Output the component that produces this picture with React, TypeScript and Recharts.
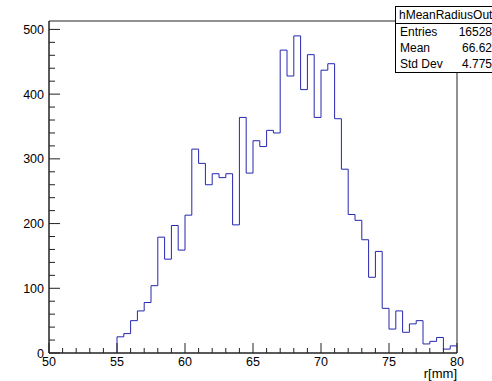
import React from "react";
import { ComposedChart, Line, ReferenceArea, XAxis, YAxis } from "recharts";

// histogram hMeanRadiusOut, 0.5 mm bins, first non-empty bin starts at 55
const FIRST_BIN = 55;
const BIN_WIDTH = 0.5;
const COUNTS = [
  25, 30, 50, 65, 78, 104, 179, 145, 197, 159,
  213, 315, 293, 260, 277, 271, 277, 198, 364, 278,
  328, 319, 344, 340, 468, 428, 490, 407, 461, 364,
  437, 447, 362, 284, 214, 205, 175, 117, 157, 69,
  37, 65, 32, 45, 50, 14, 18, 24, 6, 11
];

const X_TICKS = [50, 51, 52, 53, 54, 55, 56, 57, 58, 59, 60, 61, 62, 63, 64, 65, 66, 67, 68, 69, 70, 71, 72, 73, 74, 75, 76, 77, 78, 79, 80];
const Y_TICKS = [0, 20, 40, 60, 80, 100, 120, 140, 160, 180, 200, 220, 240, 260, 280, 300, 320, 340, 360, 380, 400, 420, 440, 460, 480, 500];
const Y_MAX = 513;

const STATS = [
  { label: "Entries", value: "16528" },
  { label: "Mean", value: "66.62" },
  { label: "Std Dev", value: "4.775" }
];

const FONT = "'Liberation Sans', Arial, Helvetica, sans-serif";
const LINE_COLOR = "#2626b0";

// step points: baseline at first edge, then one per bin, closing point at upper edge
const histData = [
  { x: FIRST_BIN, y: 0 },
  ...COUNTS.map((c, i) => ({ x: FIRST_BIN + i * BIN_WIDTH, y: c })),
  { x: FIRST_BIN + COUNTS.length * BIN_WIDTH, y: COUNTS[COUNTS.length - 1] }
];

const XTick = (props: any) => {
  const { x, y, payload } = props;
  const major = payload.value % 5 === 0;
  return (
    <g>
      <line x1={x} y1={y} x2={x} y2={y - (major ? 10 : 5)} stroke="#222" />
      {major ? (
        <text x={x} y={y + 13} textAnchor="middle" fontSize={12.5} fontFamily={FONT} fill="#000">
          {payload.value}
        </text>
      ) : null}
    </g>
  );
};

const YTick = (props: any) => {
  const { x, y, payload } = props;
  const major = payload.value % 100 === 0;
  return (
    <g>
      <line x1={x} y1={y} x2={x + (major ? 11 : 6)} y2={y} stroke="#222" />
      {major ? (
        <text x={x - 5} y={y + 4.5} textAnchor="end" fontSize={12.5} fontFamily={FONT} fill="#000">
          {payload.value}
        </text>
      ) : null}
    </g>
  );
};

export default function App() {
  return (
    <div style={{ position: "absolute", left: 0, top: 0, width: 492, height: 381, overflow: "hidden", background: "#fff" }}>
      <ComposedChart width={492} height={381} data={histData} margin={{ top: 21, right: 35, bottom: 0, left: 0 }}>
        <XAxis
          dataKey="x"
          type="number"
          domain={[50, 80]}
          ticks={X_TICKS}
          interval={0}
          tickSize={0}
          tickMargin={0}
          tick={XTick}
          height={28}
          axisLine={{ stroke: "#222" }}
        />
        <YAxis
          type="number"
          domain={[0, Y_MAX]}
          ticks={Y_TICKS}
          interval={0}
          tickSize={0}
          tickMargin={0}
          tick={YTick}
          width={49}
          axisLine={{ stroke: "#222" }}
        />
        <ReferenceArea x1={50} x2={80} y1={0} y2={Y_MAX} stroke="#222" fill="none" />
        <Line
          dataKey="y"
          type="stepAfter"
          stroke={LINE_COLOR}
          strokeWidth={1}
          dot={false}
          isAnimationActive={false}
        />
      </ComposedChart>

      <div
        style={{
          position: "absolute",
          right: 35,
          top: 367,
          fontFamily: FONT,
          fontSize: 13,
          lineHeight: "13px",
          color: "#000"
        }}
      >
        r[mm]
      </div>

      <div
        style={{
          position: "absolute",
          left: 395,
          top: 6,
          width: 100,
          border: "1px solid #000",
          background: "#fff",
          fontFamily: FONT,
          fontSize: 12,
          color: "#000",
          boxSizing: "border-box"
        }}
      >
        <div style={{ height: 16, lineHeight: "16px", paddingLeft: 3, borderBottom: "1px solid #000", whiteSpace: "nowrap" }}>
          hMeanRadiusOut
        </div>
        {STATS.map((s) => (
          <div
            key={s.label}
            style={{ height: 16, lineHeight: "16px", display: "flex", justifyContent: "space-between", paddingLeft: 4, paddingRight: 2 }}
          >
            <span>{s.label}</span>
            <span>{s.value}</span>
          </div>
        ))}
      </div>
    </div>
  );
}
